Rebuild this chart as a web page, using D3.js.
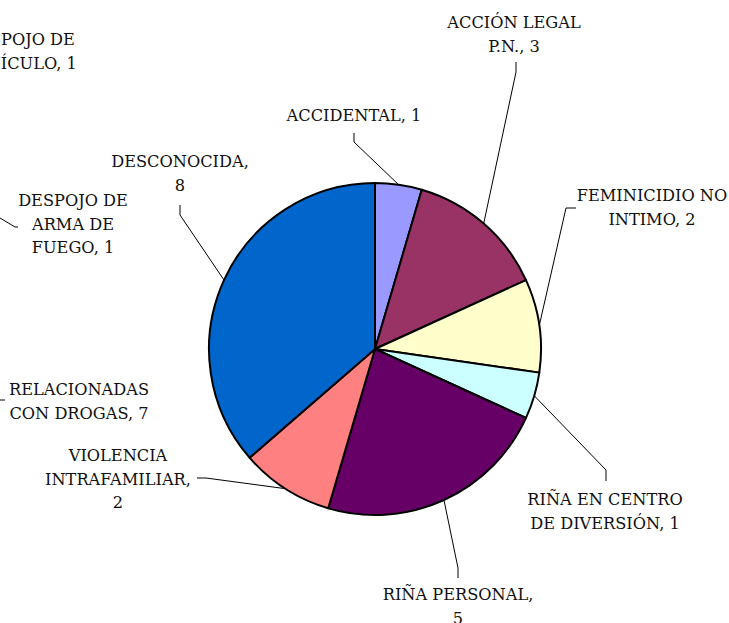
<!DOCTYPE html>
<html>
<head>
<meta charset="utf-8">
<script src="https://cdn.jsdelivr.net/npm/d3@7"></script>
<style>
  body { margin: 0; background: #fff; }
  svg { display: block; }
</style>
</head>
<body>
<svg id="chart"></svg>
<script>
// slices that are drawn (clockwise from 12 o'clock)
const sliceCategories = [
  "ACCIDENTAL",
  "ACCIÓN LEGAL P.N.",
  "FEMINICIDIO NO INTIMO",
  "RIÑA EN CENTRO DE DIVERSIÓN",
  "RIÑA PERSONAL",
  "VIOLENCIA INTRAFAMILIAR",
  "DESCONOCIDA"
];
const sliceValues = [1, 3, 2, 1, 5, 2, 8];
const sliceColors = ["#9999ff", "#993366", "#ffffcc", "#ccffff", "#660066", "#ff8080", "#0066cc"];

// labels whose slices fall outside the visible area
const outsideCategories = ["DESPOJO DE VEHÍCULO", "DESPOJO DE ARMA DE FUEGO", "RELACIONADAS CON DROGAS"];
const outsideValues = [1, 1, 7];

function init() {
  const width = 729,
    height = 623,
    cx = 375,
    cy = 349,
    radius = 166,
    lineH = 23.5;

  const svg = d3.select("#chart").attr("width", width).attr("height", height);

  // label layout: centre x, first baseline, leader elbow and end
  const layout = {
    "ACCIDENTAL": { x: 354, y: 121, elbow: [354, 142], end: [354, 133] },
    "ACCIÓN LEGAL P.N.": { x: 514, y: 28, elbow: [516, 72], end: [516, 62] },
    "FEMINICIDIO NO INTIMO": { x: 652, y: 201, elbow: [566, 208], end: [576, 208] },
    "RIÑA EN CENTRO DE DIVERSIÓN": { x: 605, y: 505, elbow: [606, 470], end: [606, 481] },
    "RIÑA PERSONAL": { x: 458, y: 600, elbow: [458, 568], end: [458, 578] },
    "VIOLENCIA INTRAFAMILIAR": { x: 118, y: 461, elbow: [206, 478], end: [197, 478] },
    "DESCONOCIDA": { x: 180, y: 167, elbow: [180, 215], end: [180, 205] }
  };
  const lineBreaks = {
    "ACCIDENTAL": (v) => [`ACCIDENTAL, ${v}`],
    "ACCIÓN LEGAL P.N.": (v) => ["ACCIÓN LEGAL", `P.N., ${v}`],
    "FEMINICIDIO NO INTIMO": (v) => ["FEMINICIDIO NO", `INTIMO, ${v}`],
    "RIÑA EN CENTRO DE DIVERSIÓN": (v) => ["RIÑA EN CENTRO", `DE DIVERSIÓN, ${v}`],
    "RIÑA PERSONAL": (v) => ["RIÑA PERSONAL,", `${v}`],
    "VIOLENCIA INTRAFAMILIAR": (v) => ["VIOLENCIA", "INTRAFAMILIAR,", `${v}`],
    "DESCONOCIDA": (v) => ["DESCONOCIDA,", `${v}`],
    "DESPOJO DE VEHÍCULO": (v) => ["DESPOJO DE", `VEHÍCULO, ${v}`],
    "DESPOJO DE ARMA DE FUEGO": (v) => ["DESPOJO DE", "ARMA DE", `FUEGO, ${v}`],
    "RELACIONADAS CON DROGAS": (v) => ["RELACIONADAS", `CON DROGAS, ${v}`]
  };
  const outsideLayout = {
    "DESPOJO DE VEHÍCULO": { x: 20, y: 45, leader: null },
    "DESPOJO DE ARMA DE FUEGO": { x: 73, y: 206, leader: [[-30, 200], [15, 227], [18, 227]] },
    "RELACIONADAS CON DROGAS": { x: 79, y: 395, leader: [[-30, 400], [5, 400]] }
  };

  const data = sliceCategories.map((c, i) => ({ cat: c, value: sliceValues[i], color: sliceColors[i] }));

  const pie = d3.pie().sort(null).value((d) => d.value);
  const arcs = pie(data);
  const arcGenerator = d3.arc().innerRadius(0).outerRadius(radius);
  const edgeArc = d3.arc().innerRadius(radius).outerRadius(radius);

  const g = svg.append("g").attr("transform", `translate(${cx}, ${cy})`);

  g.selectAll("path.slice")
    .data(arcs)
    .join("path")
    .attr("class", "slice")
    .attr("d", arcGenerator)
    .attr("fill", (d) => d.data.color)
    .attr("stroke", "#000")
    .attr("stroke-width", 2)
    .attr("stroke-linejoin", "round");

  const line = d3.line();

  // leader lines from slice edge
  svg.selectAll("path.leader")
    .data(arcs)
    .join("path")
    .attr("class", "leader")
    .attr("d", (d) => {
      const p = edgeArc.centroid(d);
      const L = layout[d.data.cat];
      return line([[p[0] + cx, p[1] + cy], L.elbow, L.end]);
    })
    .attr("fill", "none")
    .attr("stroke", "#000")
    .attr("stroke-width", 1);

  function drawLabel(L, lines) {
    const t = svg.append("text")
      .attr("text-anchor", "middle")
      .attr("font-family", "'DejaVu Serif', serif")
      .attr("font-size", 16.2)
      .attr("fill", "#111");
    lines.forEach((s, i) => {
      t.append("tspan").attr("x", L.x).attr("y", L.y + i * lineH).text(s);
    });
  }

  arcs.forEach((d) => drawLabel(layout[d.data.cat], lineBreaks[d.data.cat](d.data.value)));

  outsideCategories.forEach((c, i) => {
    const L = outsideLayout[c];
    if (L.leader) {
      svg.append("path")
        .attr("d", line(L.leader))
        .attr("fill", "none")
        .attr("stroke", "#000")
        .attr("stroke-width", 1);
    }
    drawLabel(L, lineBreaks[c](outsideValues[i]));
  });
}

init();
</script>
</body>
</html>
